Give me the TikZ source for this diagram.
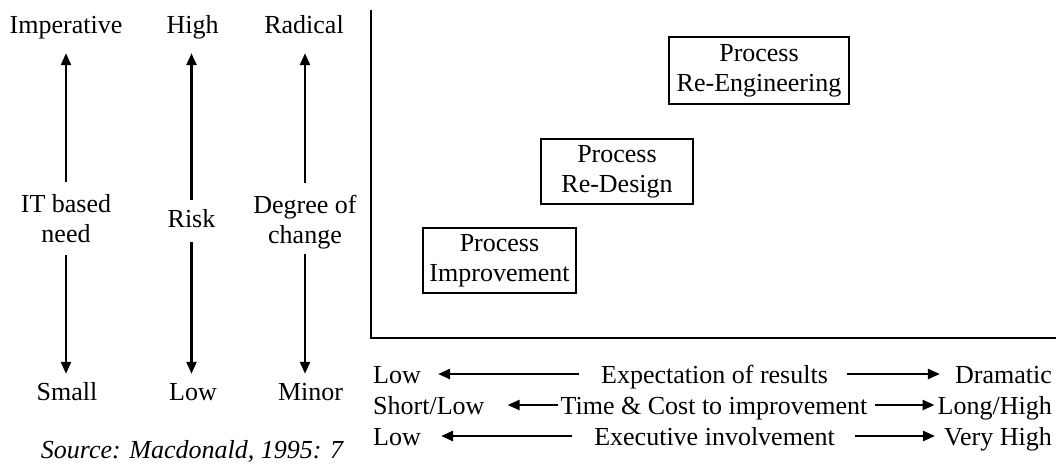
\documentclass[tikz,border=0pt]{standalone}
\usepackage{fontspec}
\setmainfont{Liberation Serif}
\usetikzlibrary{arrows.meta}
\usetikzlibrary{positioning}
\newcommand{\labfont}{\fontsize{26}{30}\selectfont}

\begin{document}
\begin{tikzpicture}[x=1pt,y=-1pt,>={Triangle[length=12pt,width=10pt]},
			font=\labfont]
			\tikzstyle{lab}=[inner sep=0pt,text height=17pt,text depth=5pt]
			\tikzstyle{rowlab}=[inner sep=0pt,text height=18pt,text depth=0pt]
			\tikzstyle{twolab}=[inner sep=0pt,align=center]
			\tikzstyle{stage}=[draw,line width=2pt,align=center,inner sep=0pt,minimum height=65pt]
			\tikzstyle{arr}=[->,line width=2.4pt]
			
			\useasboundingbox (0,0) rectangle (1056,466);
			
			% left scales
			\node[lab,anchor=base]   (imp)   at (66,33)    {Imperative};
			\node[lab,anchor=base]   (high)  at (192.5,33) {High};
			\node[lab,anchor=base]   (rad)   at (304,33)   {Radical};
			\node[twolab]            (itn)   at (66,219)   {IT based\\need};
			\node[lab,anchor=base]   (risk)  at (191.5,227) {Risk};
			\node[twolab]            (deg)   at (305,222)  {Degree of\\change};
			\node[lab,anchor=base]   (small) at (67,400)   {Small};
			\node[lab,anchor=base]   (low)   at (193,400)  {Low};
			\node[lab,anchor=base]   (minor) at (310.5,400) {Minor};
			\node[lab,anchor=base,font=\labfont\itshape] (src) at (192,458) {Source: Macdonald, 1995: 7};
			
			% chart
			\coordinate (ytop)   at (371,10);
			\coordinate (origin) at (371,338);
			\coordinate (xend)   at (1056,338);
			\draw[line width=2pt] (ytop) -- (origin) -- (xend);
			
			\node[stage,minimum width=180pt,minimum height=67pt] (reeng)  at (759,70.5)    {Process\\Re-Engineering};
			\node[stage,minimum width=152pt]                     (redes)  at (617,171.5)   {Process\\Re-Design};
			\node[stage,minimum width=153pt]                     (improv) at (499.5,260.5) {Process\\Improvement};
			
			% bottom rows
			\node[rowlab,anchor=base west] (lowa)  at (373,383)   {Low};
			\node[rowlab,anchor=base]      (expec) at (714.5,383) {Expectation of results};
			\node[rowlab,anchor=base east] (dram)  at (1052,383)  {Dramatic};
			\node[rowlab,anchor=base west] (shortl) at (373,414)  {Short/Low};
			\node[rowlab,anchor=base]      (tcost) at (714,414)   {Time \& Cost to improvement};
			\node[rowlab,anchor=base east] (longh) at (1052,414)  {Long/High};
			\node[rowlab,anchor=base west] (lowb)  at (373,445)   {Low};
			\node[rowlab,anchor=base]      (execi) at (714.5,445) {Executive involvement};
			\node[rowlab,anchor=base east] (veryh) at (1052,445)  {Very High};
			
			\path (itn.north)  edge[arr,shorten <=13pt,shorten >=15pt] (itn.north |- imp.south)
			(itn.south)  edge[arr,shorten <=12pt,shorten >=9pt]  (itn.south |- small.north)
			(risk.north) edge[arr,shorten <=10pt,shorten >=15pt] (risk.north |- high.south)
			(risk.south) edge[arr,shorten <=10pt,shorten >=9pt]  (risk.south |- low.north)
			(deg.north)  edge[arr,shorten <=12pt,shorten >=15pt] (deg.north |- rad.south)
			(deg.south)  edge[arr,shorten <=4.5pt,shorten >=9pt] (deg.south |- minor.north)
			
			(expec.west) edge[arr,shorten <=22pt,shorten >=17pt] (lowa.east)
			(expec.east) edge[arr,shorten <=19pt,shorten >=15pt] (dram.west)
			(tcost.west) edge[arr,shorten <=2pt,shorten >=23pt]  (shortl.east)
			(tcost.east) edge[arr,shorten <=7pt,shorten >=3pt]   (longh.west)
			(execi.west) edge[arr,shorten <=22pt,shorten >=20pt] (lowb.east)
			(execi.east) edge[arr,shorten <=20pt,shorten >=9pt]  (veryh.west)
			;
\end{tikzpicture}
\end{document}
